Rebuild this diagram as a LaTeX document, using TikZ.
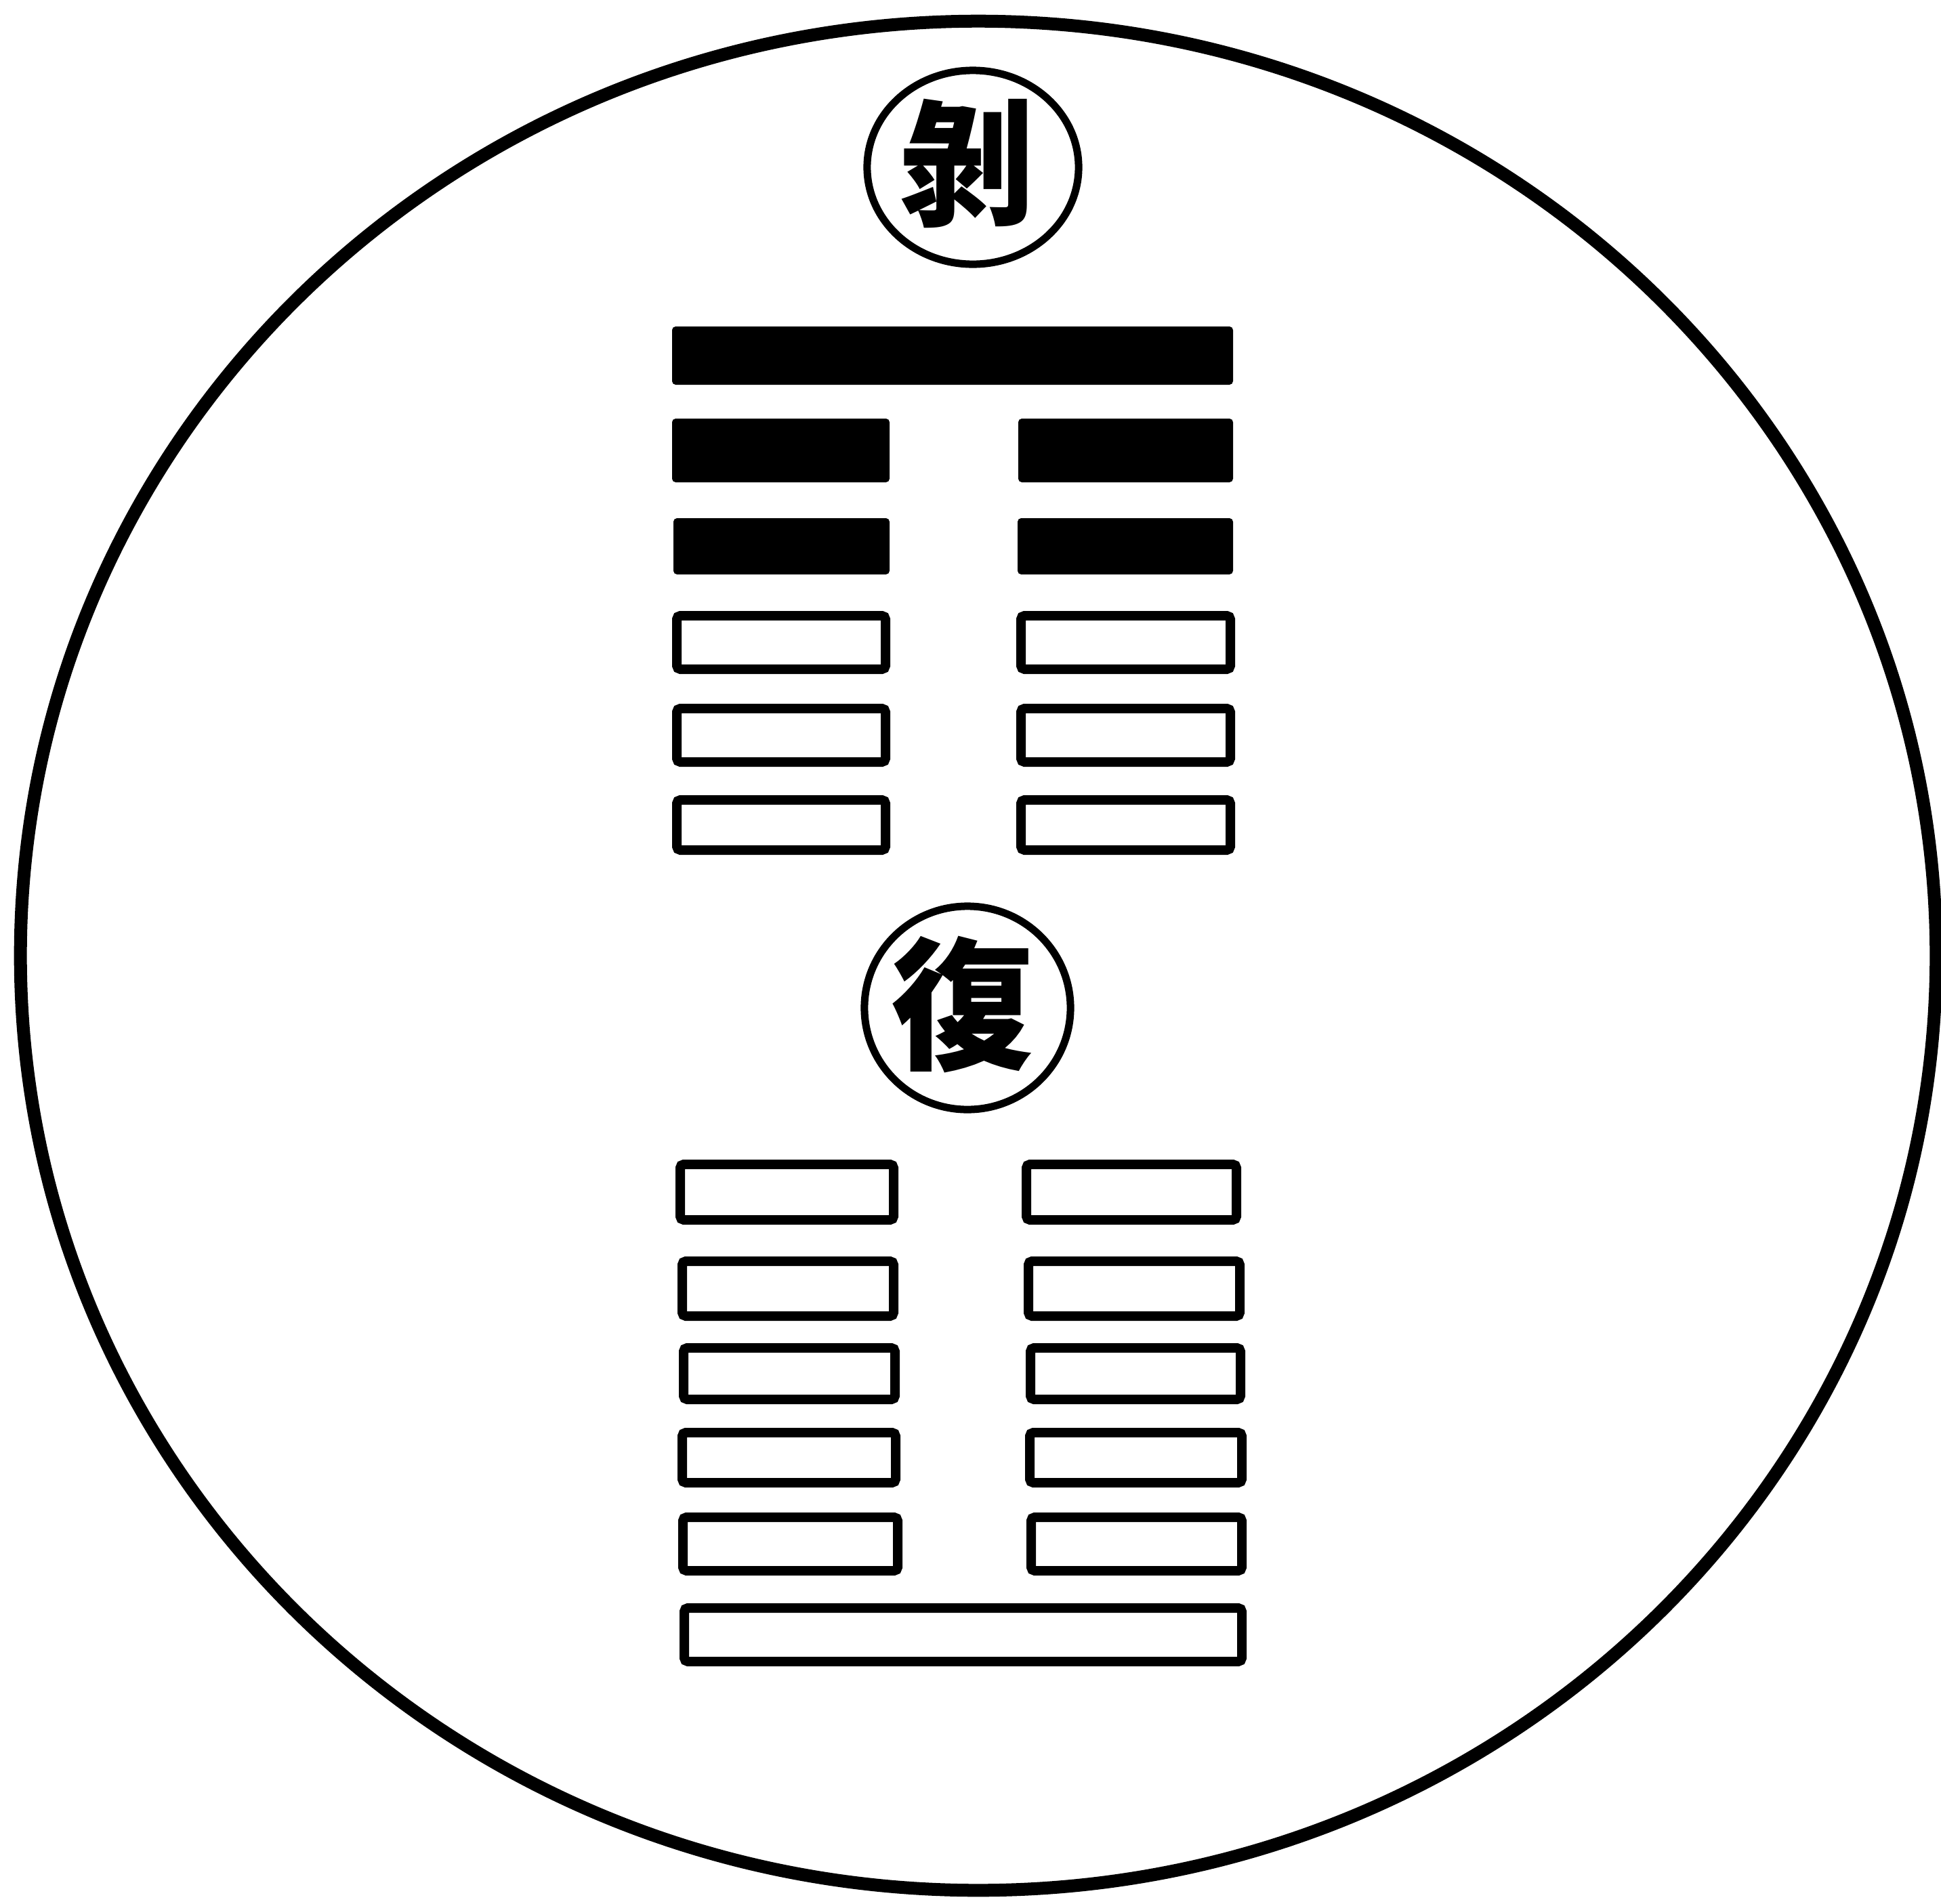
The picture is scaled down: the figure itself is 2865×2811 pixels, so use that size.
\documentclass[tikz,border=0pt]{standalone}
\usepackage{fontspec}
\newfontfamily\cjk{Noto Sans CJK TC}
\begin{document}
\begin{tikzpicture}[x=0.01cm,y=-0.01cm,
  solidbar/.style={fill=black, rounded corners=1.5pt},
  openbar/.style={draw=black, line width=0.14cm, rounded corners=1.5pt, fill=white},
  ring/.style={draw=black, line width=0.11cm},
  outerring/.style={draw=black, line width=0.19cm},
  hexname/.style={font=\cjk\bfseries, inner sep=0pt}]
\useasboundingbox[fill=white] (0,0) rectangle (2865,2811);
% outer circle
\draw[outerring] (1444,1411) ellipse [x radius=14.13cm, y radius=13.79cm];
% titles
\draw[ring] (1436,247) ellipse [x radius=1.56cm, y radius=1.43cm];
\node[hexname] (bo) at (1427,241) {\fontsize{57}{57}\selectfont 剝};
\draw[ring] (1428,1488) ellipse [x radius=1.52cm, y radius=1.50cm];
\node[hexname] (fu) at (1421,1483) {\fontsize{60}{60}\selectfont 復};
% hexagram Bo (top)
\path[solidbar] (992,482) rectangle (1820,568);
\path[solidbar] (992,618) rectangle (1313,712);
\path[solidbar] (1503,618) rectangle (1820,712);
\path[solidbar] (994,765) rectangle (1313,848);
\path[solidbar] (1502,765) rectangle (1820,848);
\path[openbar] (999,909) rectangle (1307,988);
\path[openbar] (1507,909) rectangle (1816,988);
\path[openbar] (999,1046) rectangle (1307,1125);
\path[openbar] (1507,1046) rectangle (1816,1125);
\path[openbar] (999,1181) rectangle (1307,1255);
\path[openbar] (1507,1181) rectangle (1816,1255);
% hexagram Fu (bottom)
\path[openbar] (1004,1719) rectangle (1319,1801);
\path[openbar] (1515,1719) rectangle (1825,1801);
\path[openbar] (1007,1862) rectangle (1319,1943);
\path[openbar] (1518,1862) rectangle (1830,1943);
\path[openbar] (1009,1990) rectangle (1321,2066);
\path[openbar] (1521,1990) rectangle (1831,2066);
\path[openbar] (1007,2115) rectangle (1322,2189);
\path[openbar] (1520,2115) rectangle (1833,2189);
\path[openbar] (1008,2240) rectangle (1325,2319);
\path[openbar] (1522,2240) rectangle (1833,2319);
\path[openbar] (1010,2374) rectangle (1833,2453);
\end{tikzpicture}
\end{document}
